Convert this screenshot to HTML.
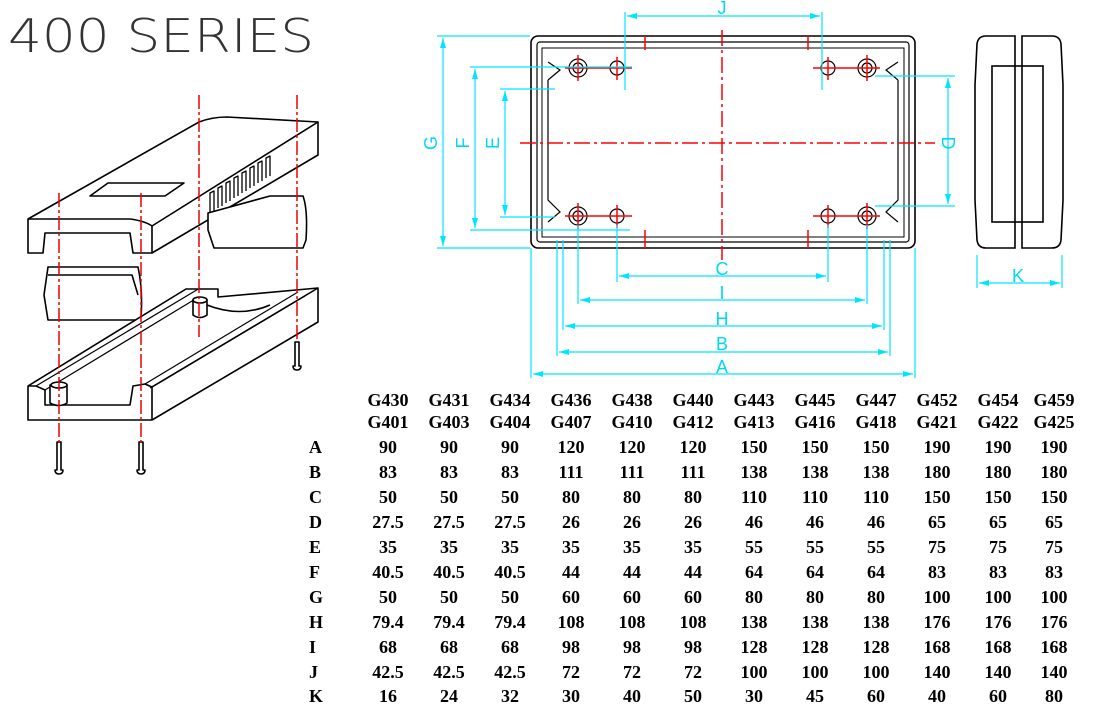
<!DOCTYPE html>
<html><head><meta charset="utf-8"><style>
html,body{margin:0;padding:0;background:#fff;}
svg{display:block}
</style></head><body>
<svg width="1100" height="719" viewBox="0 0 1100 719" xmlns="http://www.w3.org/2000/svg">
<defs>
<marker id="ar" viewBox="0 0 10 6" refX="10" refY="3" markerWidth="10" markerHeight="6" orient="auto-start-reverse" markerUnits="userSpaceOnUse"><path d="M0,0 L10,3 L0,6 z" fill="#00e5ff"/></marker>
</defs>
<text x="8" y="52" font-family="DejaVu Sans, Liberation Sans, sans-serif" font-size="46" fill="#333" textLength="306" lengthAdjust="spacingAndGlyphs" style="font-weight:200">400 SERIES</text>

<!-- Exploded iso view -->
<g fill="#fff" stroke="#000" stroke-width="1.6" stroke-linejoin="round">
 <path d="M28,219 L199,122 Q212,117 227,117 L318,122 L318,155 L152,253 L133,253 L130,233 L45,233 L43,253 L28,253 Z"/>
 <path d="M28,219 L130,219 Q145,221 152,226 L318,122" fill="none"/>
 <path d="M152,226 L152,253" fill="none"/>
 <path d="M90,196 L108,183 L184,183 L165,196 Z"/>
 <g fill="none" stroke-width="1.3">
  <path d="M210,213 V193 L214,191 V211"/><path d="M218,208 V188 L222,186 V206"/><path d="M226,203 V183 L230,181 V201"/><path d="M234,198 V178 L238,176 V196"/><path d="M242,193 V173 L246,171 V191"/><path d="M250,188 V168 L254,166 V186"/><path d="M258,183 V163 L262,161 V181"/><path d="M266,178 V158 L270,156 V176"/>
 </g>
 <path d="M270,196 L303,196 Q308,210 306,240 L303,248 L214,248 L208,230 L208,213 Z"/>
 <path d="M48,267 L138,267 Q143,290 141,318 L138,320 L48,320 L44,295 Z"/>
 <path d="M48,275 L132,275 L138,295" fill="none"/>
 <path d="M28,386 L186,289 L218,289 L218,297 L318,288 L318,322 L152,420 Q100,420 28,420 Z"/>
 <path d="M28,386 L36,386 L45,390 L45,405 L130,405 L133,386 L145,384 L152,387 L318,288" fill="none"/>
 <path d="M152,387 L152,420" fill="none"/>
 <path d="M36,386 L200,288 M45,390 L197,298 M145,384 L298,292 M150,388 L305,296" fill="none" stroke-width="1.2"/>
 <path d="M193,300 L193,315 Q200,320 207,315 L207,300 Z"/>
 <ellipse cx="200" cy="300" rx="7" ry="3"/>
 <path d="M207,305 Q240,318 270,305" fill="none"/>
 <path d="M50,385 L50,403 Q59,408 67,403 L67,385 Z"/>
 <ellipse cx="59" cy="385" rx="8" ry="3"/>
 <path d="M57,442 h4 v28 h2 q0,4 -4,4 q-4,0 -4,-4 h2 z"/>
 <path d="M139,442 h4 v28 h2 q0,4 -4,4 q-4,0 -4,-4 h2 z"/>
 <path d="M295,342 h4 v24 h2 q0,4 -4,4 q-4,0 -4,-4 h2 z"/>
</g>
<g stroke="#e00" stroke-width="1.5" stroke-dasharray="14,3,3,3" fill="none">
 <path d="M59,193 V445 M141,193 V445 M199,95 V337 M297,95 V340"/>
</g>

<!-- Top view -->
<g fill="none" stroke="#000" stroke-width="1.6">
 <rect x="531" y="36" width="384" height="212" rx="7"/>
 <rect x="537" y="42" width="372" height="200" rx="3" stroke-width="1.2"/>
 <path d="M548,80 L560,70 L548,62 M548,80 V200 L560,212 L548,222 M898,80 L886,70 L898,62 M898,80 V200 L886,212 L898,222" stroke-width="1.2"/>
 <path d="M542,48 H904 V237 H542 Z" stroke-width="1"/>
 <g stroke-width="1.2">
  <circle cx="578" cy="68" r="9"/><circle cx="578" cy="68" r="5"/>
  <circle cx="867" cy="68" r="9"/><circle cx="867" cy="68" r="5"/>
  <circle cx="578" cy="216" r="9"/><circle cx="578" cy="216" r="5"/>
  <circle cx="867" cy="216" r="9"/><circle cx="867" cy="216" r="5"/>
  <circle cx="617" cy="68" r="7"/><circle cx="828" cy="68" r="7"/>
  <circle cx="617" cy="216" r="7"/><circle cx="828" cy="216" r="7"/>
 </g>
 <path d="M986,36 H1015 V248 H986 Q978,248 977,240 L975,200 V85 L977,44 Q978,36 986,36 Z"/>
 <path d="M1022,36 H1052 Q1060,36 1061,44 L1063,85 V200 L1061,240 Q1060,248 1052,248 H1022 Z"/>
 <rect x="992" y="66" width="51" height="156"/>
</g>
<g stroke="#f00" stroke-width="1.5" fill="none">
 <path d="M565,68 H632 M578,55 V81 M617,57 V80 M813,68 H880 M867,55 V81 M828,57 V80 M565,216 H632 M578,203 V229 M617,205 V228 M813,216 H880 M867,203 V229 M828,205 V228"/>
 <path d="M645,36 V50 M645,230 V248 M808,36 V50 M808,230 V248"/>
 <path d="M722,30 V260 M520,143 H935" stroke-dasharray="16,4,3,4"/>
</g>
<g stroke="#00e5ff" stroke-width="1.2" fill="none">
 <path d="M625,12 V90 M822,12 V90"/>
 <path d="M627,16 H820" marker-start="url(#ar)" marker-end="url(#ar)"/>
 <path d="M437,36 H530 M437,248 H530 M470,67 H632 M470,230 H630 M500,89 H555 M500,217 H555"/>
 <path d="M443,38 V246" marker-start="url(#ar)" marker-end="url(#ar)"/>
 <path d="M475,69 V228" marker-start="url(#ar)" marker-end="url(#ar)"/>
 <path d="M505,91 V215" marker-start="url(#ar)" marker-end="url(#ar)"/>
 <path d="M875,76 H955 M875,206 H955"/>
 <path d="M948,78 V204" marker-start="url(#ar)" marker-end="url(#ar)"/>
 <path d="M617,225 V282 M828,225 V282 M578,225 V304 M867,225 V304 M563,240 V330 M884,240 V330 M557,240 V356 M890,240 V356 M531,248 V378 M915,248 V378 M977,255 V288 M1062,255 V288"/>
 <path d="M619,276 H826" marker-start="url(#ar)" marker-end="url(#ar)"/>
 <path d="M580,300 H865" marker-start="url(#ar)" marker-end="url(#ar)"/>
 <path d="M565,326 H882" marker-start="url(#ar)" marker-end="url(#ar)"/>
 <path d="M559,352 H888" marker-start="url(#ar)" marker-end="url(#ar)"/>
 <path d="M533,374 H913" marker-start="url(#ar)" marker-end="url(#ar)"/>
 <path d="M979,283 H1060" marker-start="url(#ar)" marker-end="url(#ar)"/>
</g>
<g fill="#00d8f0" font-family="Liberation Sans, sans-serif" font-size="18" text-anchor="middle">
 <text x="722" y="14">J</text><text x="722" y="275">C</text><text x="722" y="299">I</text>
 <text x="722" y="325">H</text><text x="722" y="350">B</text><text x="722" y="373">A</text>
 <text x="1018" y="282">K</text>
 <text transform="translate(437,143) rotate(-90)">G</text>
 <text transform="translate(469,143) rotate(-90)">F</text>
 <text transform="translate(499,143) rotate(-90)">E</text>
 <text transform="translate(942,143) rotate(90)">D</text>
</g>

<g font-family="Liberation Serif, serif" font-weight="bold" font-size="18" text-anchor="middle" fill="#000">
 <text x="388" y="406">G430</text><text x="449" y="406">G431</text><text x="510" y="406">G434</text><text x="571" y="406">G436</text><text x="632" y="406">G438</text><text x="693" y="406">G440</text><text x="754" y="406">G443</text><text x="815" y="406">G445</text><text x="876" y="406">G447</text><text x="937" y="406">G452</text><text x="998" y="406">G454</text><text x="1054" y="406">G459</text>
 <text x="388" y="428">G401</text><text x="449" y="428">G403</text><text x="510" y="428">G404</text><text x="571" y="428">G407</text><text x="632" y="428">G410</text><text x="693" y="428">G412</text><text x="754" y="428">G413</text><text x="815" y="428">G416</text><text x="876" y="428">G418</text><text x="937" y="428">G421</text><text x="998" y="428">G422</text><text x="1054" y="428">G425</text>
 <g text-anchor="start">
  <text x="309" y="453">A</text><text x="309" y="478">B</text><text x="309" y="503">C</text><text x="309" y="528">D</text><text x="309" y="553">E</text><text x="309" y="578">F</text><text x="309" y="603">G</text><text x="309" y="628">H</text><text x="309" y="653">I</text><text x="309" y="678">J</text><text x="309" y="702">K</text>
 </g>
 <text y="453"><tspan x="388">90</tspan><tspan x="449">90</tspan><tspan x="510">90</tspan><tspan x="571">120</tspan><tspan x="632">120</tspan><tspan x="693">120</tspan><tspan x="754">150</tspan><tspan x="815">150</tspan><tspan x="876">150</tspan><tspan x="937">190</tspan><tspan x="998">190</tspan><tspan x="1054">190</tspan></text>
 <text y="478"><tspan x="388">83</tspan><tspan x="449">83</tspan><tspan x="510">83</tspan><tspan x="571">111</tspan><tspan x="632">111</tspan><tspan x="693">111</tspan><tspan x="754">138</tspan><tspan x="815">138</tspan><tspan x="876">138</tspan><tspan x="937">180</tspan><tspan x="998">180</tspan><tspan x="1054">180</tspan></text>
 <text y="503"><tspan x="388">50</tspan><tspan x="449">50</tspan><tspan x="510">50</tspan><tspan x="571">80</tspan><tspan x="632">80</tspan><tspan x="693">80</tspan><tspan x="754">110</tspan><tspan x="815">110</tspan><tspan x="876">110</tspan><tspan x="937">150</tspan><tspan x="998">150</tspan><tspan x="1054">150</tspan></text>
 <text y="528"><tspan x="388">27.5</tspan><tspan x="449">27.5</tspan><tspan x="510">27.5</tspan><tspan x="571">26</tspan><tspan x="632">26</tspan><tspan x="693">26</tspan><tspan x="754">46</tspan><tspan x="815">46</tspan><tspan x="876">46</tspan><tspan x="937">65</tspan><tspan x="998">65</tspan><tspan x="1054">65</tspan></text>
 <text y="553"><tspan x="388">35</tspan><tspan x="449">35</tspan><tspan x="510">35</tspan><tspan x="571">35</tspan><tspan x="632">35</tspan><tspan x="693">35</tspan><tspan x="754">55</tspan><tspan x="815">55</tspan><tspan x="876">55</tspan><tspan x="937">75</tspan><tspan x="998">75</tspan><tspan x="1054">75</tspan></text>
 <text y="578"><tspan x="388">40.5</tspan><tspan x="449">40.5</tspan><tspan x="510">40.5</tspan><tspan x="571">44</tspan><tspan x="632">44</tspan><tspan x="693">44</tspan><tspan x="754">64</tspan><tspan x="815">64</tspan><tspan x="876">64</tspan><tspan x="937">83</tspan><tspan x="998">83</tspan><tspan x="1054">83</tspan></text>
 <text y="603"><tspan x="388">50</tspan><tspan x="449">50</tspan><tspan x="510">50</tspan><tspan x="571">60</tspan><tspan x="632">60</tspan><tspan x="693">60</tspan><tspan x="754">80</tspan><tspan x="815">80</tspan><tspan x="876">80</tspan><tspan x="937">100</tspan><tspan x="998">100</tspan><tspan x="1054">100</tspan></text>
 <text y="628"><tspan x="388">79.4</tspan><tspan x="449">79.4</tspan><tspan x="510">79.4</tspan><tspan x="571">108</tspan><tspan x="632">108</tspan><tspan x="693">108</tspan><tspan x="754">138</tspan><tspan x="815">138</tspan><tspan x="876">138</tspan><tspan x="937">176</tspan><tspan x="998">176</tspan><tspan x="1054">176</tspan></text>
 <text y="653"><tspan x="388">68</tspan><tspan x="449">68</tspan><tspan x="510">68</tspan><tspan x="571">98</tspan><tspan x="632">98</tspan><tspan x="693">98</tspan><tspan x="754">128</tspan><tspan x="815">128</tspan><tspan x="876">128</tspan><tspan x="937">168</tspan><tspan x="998">168</tspan><tspan x="1054">168</tspan></text>
 <text y="678"><tspan x="388">42.5</tspan><tspan x="449">42.5</tspan><tspan x="510">42.5</tspan><tspan x="571">72</tspan><tspan x="632">72</tspan><tspan x="693">72</tspan><tspan x="754">100</tspan><tspan x="815">100</tspan><tspan x="876">100</tspan><tspan x="937">140</tspan><tspan x="998">140</tspan><tspan x="1054">140</tspan></text>
 <text y="702"><tspan x="388">16</tspan><tspan x="449">24</tspan><tspan x="510">32</tspan><tspan x="571">30</tspan><tspan x="632">40</tspan><tspan x="693">50</tspan><tspan x="754">30</tspan><tspan x="815">45</tspan><tspan x="876">60</tspan><tspan x="937">40</tspan><tspan x="998">60</tspan><tspan x="1054">80</tspan></text>
</g>
</svg>
</body></html>
